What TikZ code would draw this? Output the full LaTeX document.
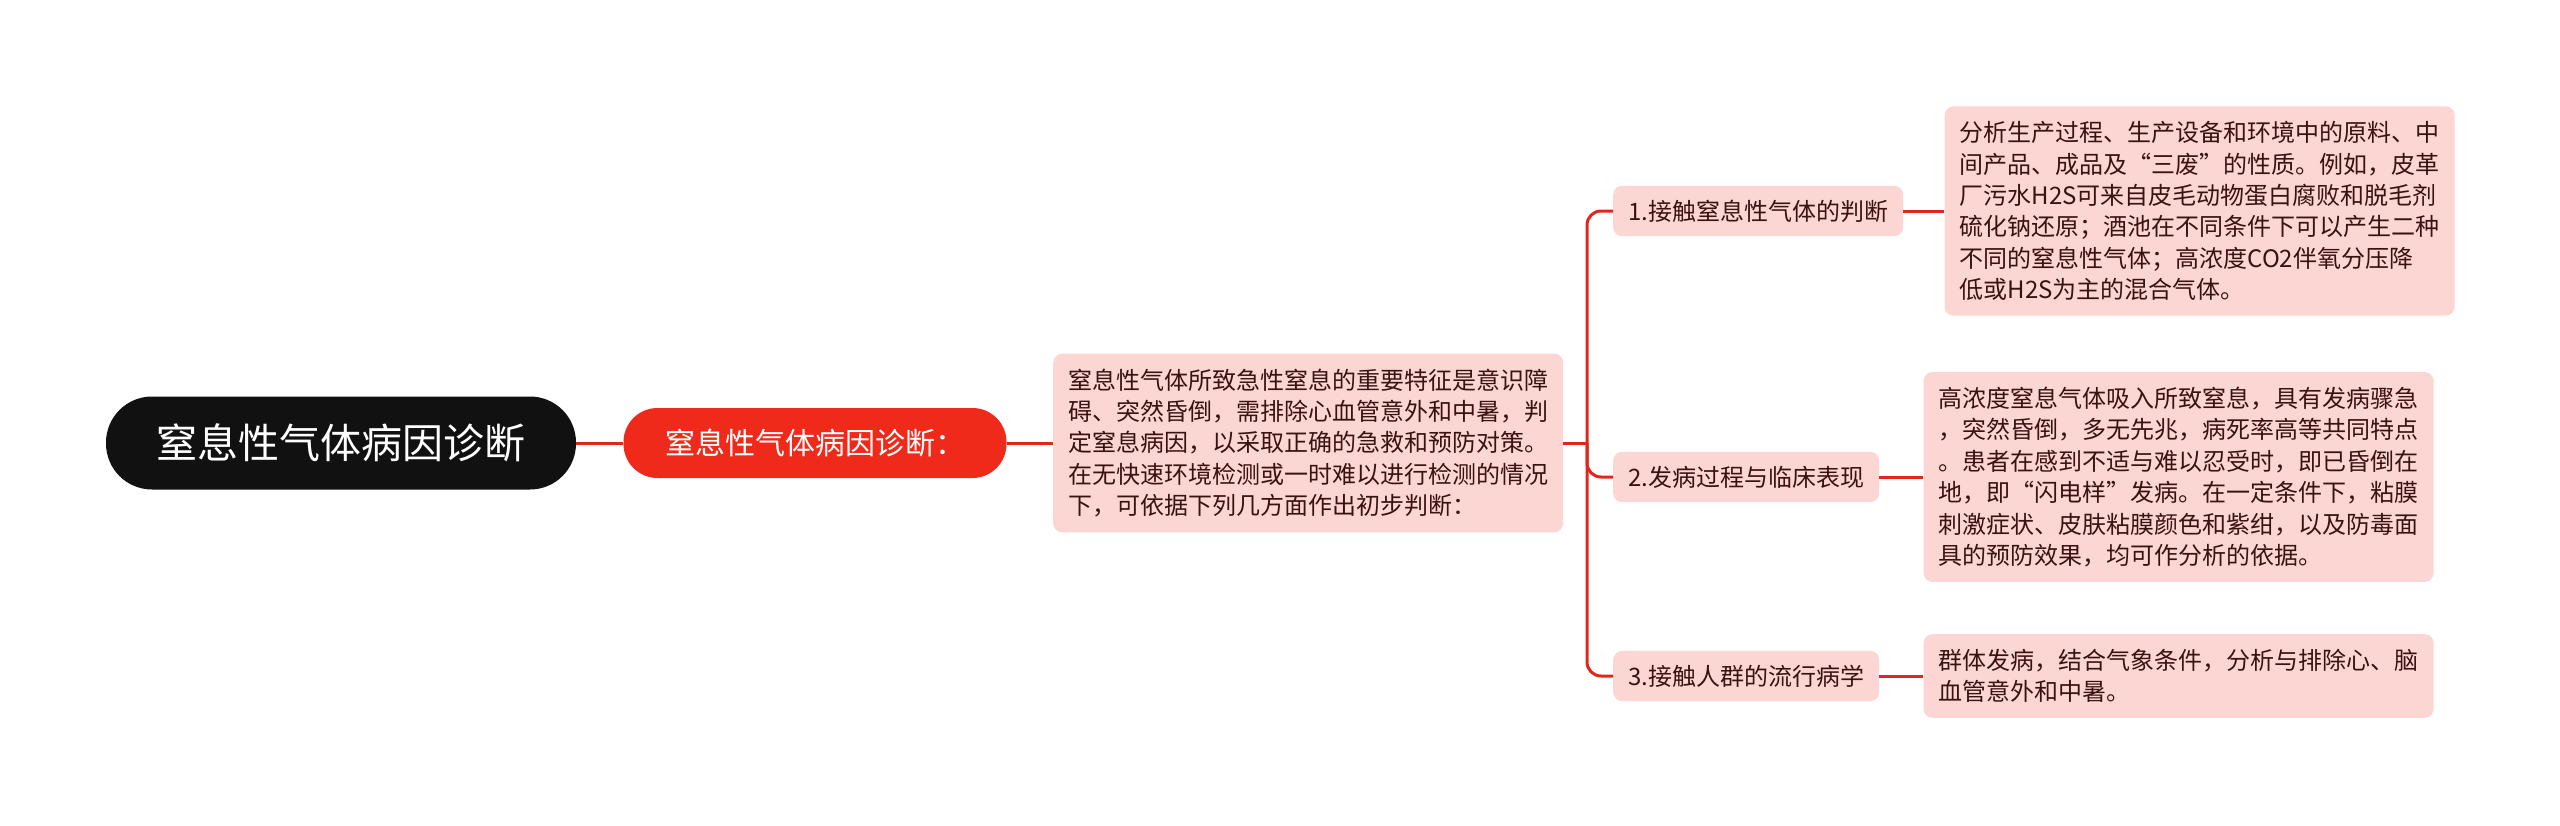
\documentclass[tikz,border=0pt]{standalone}
\usepackage{fontspec}
\setmainfont{Noto Sans CJK SC}
\usetikzlibrary{positioning}

\definecolor{lineRed}{HTML}{E3261C}
\definecolor{subRed}{HTML}{F02A1A}
\definecolor{rootBlack}{HTML}{111111}
\definecolor{boxPink}{HTML}{FCD6D3}
\definecolor{boxText}{HTML}{3A1212}

\tikzset{
  rootnode/.style={fill=rootBlack, text=white, rounded corners=46pt,
    minimum height=93pt, minimum width=470pt,
    font=\fontsize{41}{49}\selectfont},
  subnode/.style={fill=subRed, text=white, rounded corners=34pt,
    minimum height=70pt, minimum width=383pt,
    font=\fontsize{30}{36}\selectfont},
  pinkbox/.style={fill=boxPink, text=boxText, rounded corners=9pt,
    inner xsep=15pt, inner ysep=15pt, align=left,
    font=\fontsize{24}{31.4}\selectfont},
  branchbox/.style={pinkbox, inner ysep=14pt},
  link/.style={draw=lineRed, line width=3pt},
}

\begin{document}
\begin{tikzpicture}
    \useasboundingbox (0,0) rectangle (2560pt,-825pt);
    \node[rootnode] (root) at (341pt,-443pt) {窒息性气体病因诊断};
    \node[subnode] (sub) at (815pt,-443pt) {窒息性气体病因诊断：};
    \node[pinkbox, anchor=west] (desc) at (1053pt,-443pt)
      {窒息性气体所致急性窒息的重要特征是意识障\\
       碍、突然昏倒，需排除心血管意外和中暑，判\\
       定窒息病因，以采取正确的急救和预防对策。\\
       在无快速环境检测或一时难以进行检测的情况\\
       下，可依据下列几方面作出初步判断：};
    \coordinate (trunk) at (1587pt,-443pt);
    \node[branchbox, anchor=west] (contact) at (1613pt,-211pt) {1.接触窒息性气体的判断};
    \node[branchbox, anchor=west] (onset) at (1613pt,-477pt) {2.发病过程与临床表现};
    \node[branchbox, anchor=west] (crowd) at (1613pt,-676pt) {3.接触人群的流行病学};
    \node[pinkbox, right=41pt of contact] (contactnote)
      {分析生产过程、生产设备和环境中的原料、中\\
       间产品、成品及“三废”的性质。例如，皮革\\
       厂污水H2S可来自皮毛动物蛋白腐败和脱毛剂\\
       硫化钠还原；酒池在不同条件下可以产生二种\\
       不同的窒息性气体；高浓度CO2伴氧分压降\\
       低或H2S为主的混合气体。};
    \node[pinkbox, right=44pt of onset] (onsetnote)
      {高浓度窒息气体吸入所致窒息，具有发病骤急\\
       ，突然昏倒，多无先兆，病死率高等共同特点\\
       。患者在感到不适与难以忍受时，即已昏倒在\\
       地，即“闪电样”发病。在一定条件下，粘膜\\
       刺激症状、皮肤粘膜颜色和紫绀，以及防毒面\\
       具的预防效果，均可作分析的依据。};
    \node[pinkbox, right=44pt of crowd] (crowdnote)
      {群体发病，结合气象条件，分析与排除心、脑\\
       血管意外和中暑。};
    % connectors
    \draw[link] (root) -- (sub);
    \draw[link] (sub) -- (desc);
    \draw[link] (desc.east) -- (trunk);
    \draw[link, rounded corners=14pt] (trunk) |- (contact.west);
    \draw[link, rounded corners=14pt] (trunk) |- (onset.west);
    \draw[link, rounded corners=14pt] (trunk) |- (crowd.west);
    \draw[link] (contact) -- (contactnote);
    \draw[link] (onset) -- (onsetnote);
    \draw[link] (crowd) -- (crowdnote);
\end{tikzpicture}
\end{document}
